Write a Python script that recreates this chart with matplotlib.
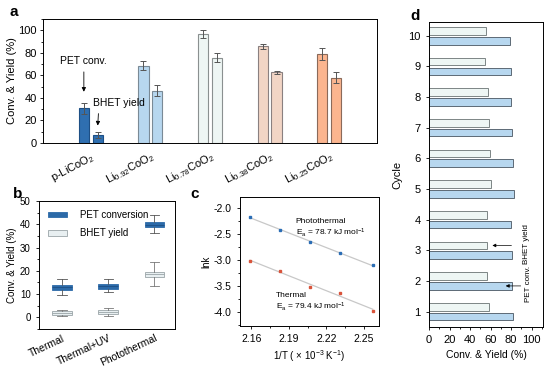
import numpy as np
import matplotlib.pyplot as plt
from matplotlib.patches import Patch
from matplotlib.ticker import AutoMinorLocator
import matplotlib.transforms as mtransforms

plt.rcParams['font.family'] = ['Liberation Sans', 'DejaVu Sans']
plt.rcParams['mathtext.default'] = 'regular'
plt.rcParams['font.size'] = 7
plt.rcParams['axes.linewidth'] = 0.7
plt.rcParams['xtick.major.size'] = 2.5
plt.rcParams['ytick.major.size'] = 2.5
plt.rcParams['xtick.minor.size'] = 1.5
plt.rcParams['ytick.minor.size'] = 1.5
plt.rcParams['xtick.major.width'] = 0.6
plt.rcParams['ytick.major.width'] = 0.6

# panel a: catalysts
catalysts = ['p-LiCoO$_2$', 'Li$_{0.92}$CoO$_2$', 'Li$_{0.78}$CoO$_2$',
             'Li$_{0.38}$CoO$_2$', 'Li$_{0.25}$CoO$_2$']
pet_conv = [30.7, 68.7, 96.8, 85.7, 79]
pet_err = [5, 4.2, 3.5, 2.5, 5.5]
bhet_yield = [7.1, 46.5, 75.6, 62.8, 58]
bhet_err = [3, 5, 4, 1.5, 5]
cat_colors = ['#2f6fb0', '#b7d7ef', '#eef6f4', '#f2d5c5', '#fbb58f']
cat_edges = ['#1d4f85', '#7a8a96', '#8a9090', '#8a8080', '#8a6a5a']

# panel b: box stats (PET conversion / BHET yield)
conditions = ['Thermal', 'Thermal+UV', 'Photothermal']
pet_box = {'q1': [11.9, 12.4, 38.9], 'med': [13.0, 13.3, 39.8], 'q3': [14.0, 14.4, 41.0],
           'lo': [9.4, 10.7, 36.3], 'hi': [16.6, 16.3, 43.9]}
bhet_box = {'q1': [1.0, 1.3, 17.4], 'med': [1.9, 2.3, 18.5], 'q3': [2.7, 3.1, 19.4],
            'lo': [0.6, 0.7, 13.4], 'hi': [3.1, 4.0, 24.0]}

# panel c: Arrhenius
inv_T = [2.159, 2.183, 2.207, 2.231, 2.257]
lnk_photo = [-2.16, -2.42, -2.65, -2.87, -3.09]
lnk_thermal = [-3.02, -3.20, -3.51, -3.63, -3.98]

# panel d: recycling
cycles = [1, 2, 3, 4, 5, 6, 7, 8, 9, 10]
pet_cycle = [81.6, 81.3, 81, 80, 82.6, 82, 81, 80, 79.7, 79]
bhet_cycle = [58, 56.6, 56, 56, 60.3, 59.7, 58, 57, 55, 55.3]

fig = plt.figure(figsize=(5.5, 3.75), dpi=100)

# ---------------- a ----------------
ax = fig.add_axes([43/550, 1-143/375, 334/550, 124/375])
x = np.arange(1, len(catalysts)+1)
w = 0.17
ax.bar(x-0.115, pet_conv, w, yerr=pet_err, color=cat_colors, edgecolor=cat_edges,
       linewidth=0.8, error_kw=dict(ecolor='#555555', elinewidth=0.7, capsize=2, capthick=0.7))
ax.bar(x+0.115, bhet_yield, w, yerr=bhet_err, color=cat_colors, edgecolor=cat_edges,
       linewidth=0.8, error_kw=dict(ecolor='#555555', elinewidth=0.7, capsize=2, capthick=0.7))
ax.set_xlim(0.2, 5.8)
ax.set_ylim(0, 110)
ax.set_yticks([0, 20, 40, 60, 80, 100])
ax.yaxis.set_minor_locator(AutoMinorLocator(2))
ax.set_xticks(x)
ax.set_xticklabels(catalysts, rotation=28, ha='right', rotation_mode='anchor', fontsize=8)
shift = mtransforms.ScaledTranslation(9/100, 0, fig.dpi_scale_trans)
for lab in ax.get_xticklabels():
    lab.set_transform(lab.get_transform() + shift)
ax.tick_params(axis='x', length=0, pad=5)
ax.tick_params(axis='y', labelsize=8, pad=2)
ax.set_ylabel('Conv. & Yield (%)', fontsize=8, labelpad=1)
ax.annotate('PET conv.', xy=(1-0.115, 43), xytext=(1-0.115, 68), ha='center', va='bottom',
            fontsize=7.5,
            arrowprops=dict(arrowstyle='-|>', color='black', lw=0.6, mutation_scale=6))
ax.annotate('BHET yield', xy=(1+0.115, 13), xytext=(1.03, 31), ha='left', va='bottom',
            fontsize=7.5,
            arrowprops=dict(arrowstyle='-|>', color='black', lw=0.6, mutation_scale=6,
                            relpos=(0.12, 0)))
fig.text(10/550, 1-12/375, 'a', fontsize=11, fontweight='bold', va='center')

# ---------------- b ----------------
ax = fig.add_axes([39/550, 1-329/375, 136/550, 128/375])
pos = np.arange(1, 4)
def stats(d):
    return [dict(med=d['med'][i], q1=d['q1'][i], q3=d['q3'][i], whislo=d['lo'][i],
                 whishi=d['hi'][i], fliers=[]) for i in range(3)]
ax.bxp(stats(pet_box), positions=pos, widths=0.42, patch_artist=True, showfliers=False,
       boxprops=dict(facecolor='#2c6aa8', edgecolor='#2c6aa8', linewidth=0.6),
       medianprops=dict(color='#1d4f85', linewidth=0.6),
       whiskerprops=dict(color='#555555', linewidth=0.6),
       capprops=dict(color='#555555', linewidth=0.6), capwidths=0.2)
ax.bxp(stats(bhet_box), positions=pos, widths=0.42, patch_artist=True, showfliers=False,
       boxprops=dict(facecolor='#e8eff1', edgecolor='#9aa4a8', linewidth=0.6),
       medianprops=dict(color='#9aa4a8', linewidth=0.6),
       whiskerprops=dict(color='#777777', linewidth=0.6),
       capprops=dict(color='#777777', linewidth=0.6), capwidths=0.2)
ax.set_xlim(0.5, 3.45)
ax.set_ylim(-5, 50)
ax.set_yticks([0, 10, 20, 30, 40, 50])
ax.yaxis.set_minor_locator(AutoMinorLocator(2))
ax.set_xticks(pos)
ax.set_xticklabels(conditions, rotation=25, ha='right', rotation_mode='anchor', fontsize=7.5)
ax.tick_params(axis='x', length=0, pad=3)
ax.set_ylabel('Conv. & Yield (%)', labelpad=2)
handles = [Patch(facecolor='#2c6aa8', edgecolor='#2c6aa8', linewidth=0.6),
           Patch(facecolor='#e8eff1', edgecolor='#9aa4a8', linewidth=0.6)]
ax.legend(handles, ['PET conversion', 'BHET yield'], loc='upper left', frameon=False,
          fontsize=7, handlelength=2.0, handleheight=0.5, borderaxespad=0.4, labelspacing=0.9,
          handletextpad=1.3, borderpad=0.5)
fig.text(13/550, 1-194/375, 'b', fontsize=11, fontweight='bold', va='center')

# ---------------- c ----------------
ax = fig.add_axes([240/550, 1-326/375, 139/550, 129/375])
for y, c in [(lnk_photo, '#2a6db5'), (lnk_thermal, '#d9533a')]:
    k, b0 = np.polyfit(inv_T, y, 1)
    xs = np.array([inv_T[0], inv_T[-1]])
    ax.plot(xs, k*xs + b0, color='#c8c8c8', lw=0.9, zorder=1)
    ax.plot(inv_T, y, 's', color=c, ms=1.8, zorder=2)
ax.set_xlim(2.151, 2.262)
ax.set_ylim(-4.27, -1.78)
ax.set_xticks([2.16, 2.19, 2.22, 2.25])
ax.set_yticks([-4.0, -3.5, -3.0, -2.5, -2.0])
ax.set_yticklabels(['-4.0', '-3.5', '-3.0', '-2.5', '-2.0'])
ax.xaxis.set_minor_locator(AutoMinorLocator(2))
ax.yaxis.set_minor_locator(AutoMinorLocator(2))
ax.tick_params(labelsize=7.5)
ax.set_xlabel('1/T ( $\\times$ 10$^{-3}$ K$^{-1}$)', labelpad=3)
ax.set_ylabel('lnk', labelpad=2)
ax.text(0.40, 0.81, 'Photothermal', transform=ax.transAxes, fontsize=6, va='center')
ax.text(0.40, 0.72, 'E$_a$ = 78.7 kJ mol$^{-1}$', transform=ax.transAxes, fontsize=6, va='center')
ax.text(0.26, 0.24, 'Thermal', transform=ax.transAxes, fontsize=6, va='center')
ax.text(0.26, 0.15, 'E$_a$ = 79.4 kJ mol$^{-1}$', transform=ax.transAxes, fontsize=6, va='center')
fig.text(190/550, 1-194/375, 'c', fontsize=11, fontweight='bold', va='center')

# ---------------- d ----------------
ax = fig.add_axes([429/550, 1-327/375, 114/550, 305/375])
cy = np.array(cycles)
ax.barh(cy+0.16, bhet_cycle, 0.25, color='#eef6f4', edgecolor='#7d8585', linewidth=0.7)
ax.barh(cy-0.16, pet_cycle, 0.25, color='#b7d7ef', edgecolor='#5d6a75', linewidth=0.7)
ax.set_xlim(0, 111)
ax.set_ylim(0.5, 10.45)
ax.set_xticks([0, 20, 40, 60, 80, 100])
ax.set_yticks(cycles)
ax.xaxis.set_minor_locator(AutoMinorLocator(2))
ax.tick_params(labelsize=8)
ax.set_xlabel('Conv. & Yield (%)', fontsize=7.5, labelpad=3)
ax.set_ylabel('Cycle', fontsize=8, labelpad=4)
ax.annotate('', xy=(59, 3.16), xytext=(83, 3.16),
            arrowprops=dict(arrowstyle='-|>', color='black', lw=0.5, mutation_scale=5))
ax.annotate('', xy=(72, 1.84), xytext=(92, 1.84),
            arrowprops=dict(arrowstyle='-|>', color='black', lw=0.5, mutation_scale=5))
ax.text(95, 3.22, 'BHET yield', rotation=90, fontsize=5.8, ha='center', va='center')
ax.text(97, 1.9, 'PET conv.', rotation=90, fontsize=5.8, ha='center', va='center')
fig.text(410/550, 1-16/375, 'd', fontsize=11, fontweight='bold', va='center')

fig.savefig('out.png', dpi=100)
